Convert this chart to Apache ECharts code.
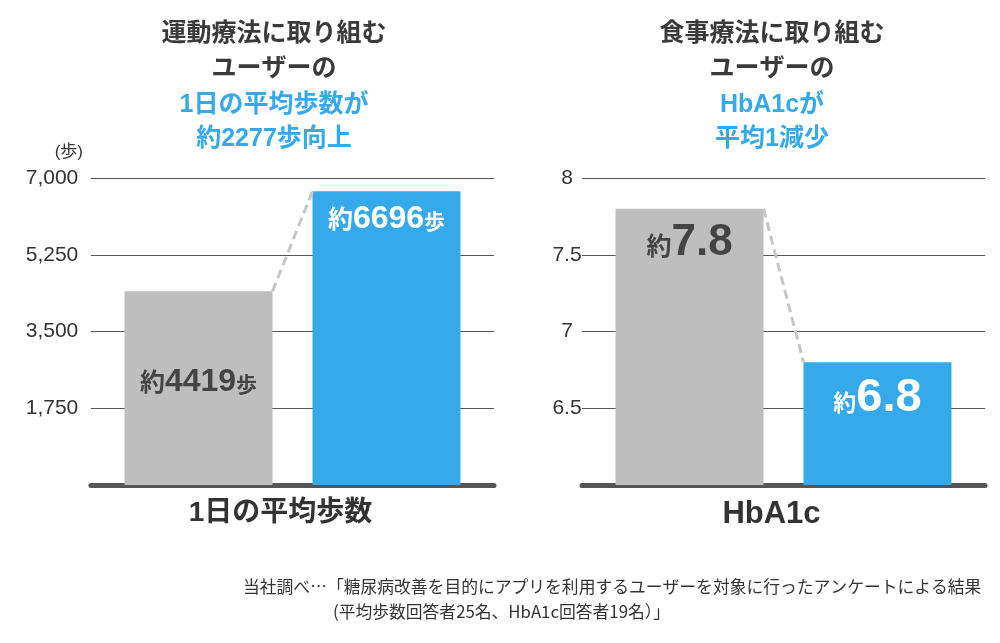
<!DOCTYPE html>
<html>
<head>
<meta charset="utf-8">
<script src="https://cdn.jsdelivr.net/npm/echarts@6/dist/echarts.min.js"></script>
<style>
html,body{margin:0;padding:0;background:#fff;}
#c{width:1000px;height:643px;}
</style>
</head>
<body>
<div id="c"></div>
<script>
// ---- data ----
const leftCategory = ['1日の平均歩数'];
const leftBefore = [4419];
const leftAfter = [6696];
const leftAxis = { min: 0, max: 7000, interval: 1750, unit: '(歩)' };

const rightCategory = ['HbA1c'];
const rightBefore = [7.8];
const rightAfter = [6.8];
const rightAxis = { min: 6, max: 8, interval: 0.5 };

const leftTitleDark = ['運動療法に取り組む', 'ユーザーの'];
const leftTitleBlue = ['1日の平均歩数が', '約2277歩向上'];
const rightTitleDark = ['食事療法に取り組む', 'ユーザーの'];
const rightTitleBlue = ['HbA1cが', '平均1減少'];
const footLines = ['当社調べ…「糖尿病改善を目的にアプリを利用するユーザーを対象に行ったアンケートによる結果',
                   '(平均歩数回答者25名、HbA1c回答者19名）」'];

// ---- style ----
const GRAY = '#bebebe', BLUE = '#35a9ea', DARK = '#3a3a3a', TXT = '#333';
const FONT = "'Liberation Sans','Noto Sans CJK JP',sans-serif";
const JFONT = "'Noto Sans CJK JP',sans-serif";
const BAR_W = 148, GAP = 40;

const chart = echarts.init(document.getElementById('c'), null, { renderer: 'canvas' });

function yAxisCfg(idx, ax, fmt, margin, name) {
  return {
    type: 'value', gridIndex: idx, min: ax.min, max: ax.max, interval: ax.interval,
    name: name || '', nameLocation: 'end', nameGap: 17,
    nameTextStyle: { color: TXT, fontSize: 17, fontFamily: FONT, align: 'right', padding: [0, 8, 0, 0] },
    axisLine: { show: false }, axisTick: { show: false },
    splitLine: { lineStyle: { color: '#555', width: 1 } },
    axisLabel: { showMinLabel: false, color: TXT, fontSize: 21, fontFamily: FONT, align: 'center', margin: margin, formatter: fmt }
  };
}
function xAxisCfg(idx, cats, size) {
  return {
    type: 'category', gridIndex: idx, data: cats,
    axisTick: { show: false },
    axisLine: { lineStyle: { color: '#555', width: 5 } },
    axisLabel: { color: TXT, fontSize: size, fontFamily: FONT, fontWeight: 'bold', margin: 14, padding: [0, 24, 0, 0] }
  };
}
function connector(xi, yi, before, after) {
  return {
    type: 'custom', xAxisIndex: xi, yAxisIndex: yi, silent: true, z: 5,
    data: before.map((v, i) => [i, v, after[i]]),
    encode: { x: 0, y: [1, 2] },
    renderItem: function (params, api) {
      const p1 = api.coord([api.value(0), api.value(1)]);
      const p2 = api.coord([api.value(0), api.value(2)]);
      const h = GAP / 2;
      return { type: 'line', shape: { x1: p1[0] - h, y1: p1[1], x2: p2[0] + h, y2: p2[1] },
               style: { stroke: '#c6c6c6', lineWidth: 3, lineDash: [9, 5] } };
    }
  };
}
function barSeries(xi, yi, data, color, label) {
  return { type: 'bar', xAxisIndex: xi, yAxisIndex: yi, data: data, barWidth: BAR_W,
           barGap: (GAP / BAR_W * 100).toFixed(1) + '%', itemStyle: { color: color }, label: label };
}
function small(size, color, lh, raise) {
  return { fontSize: size, fontFamily: JFONT, color: color, fontWeight: 'bold', verticalAlign: 'bottom', lineHeight: lh, padding: [0, 0, raise, 0] };
}
function big(size, color, lh) {
  return { fontSize: size, fontFamily: FONT, color: color, fontWeight: 'bold', lineHeight: lh };
}

const option = {
  animation: false,
  grid: [
    { left: 91, top: 178, width: 403, height: 307 },
    { left: 582, top: 178, width: 403, height: 307 }
  ],
  xAxis: [xAxisCfg(0, leftCategory, 28), xAxisCfg(1, rightCategory, 31)],
  yAxis: [
    yAxisCfg(0, leftAxis, v => v.toLocaleString('en-US'), 39, leftAxis.unit),
    yAxisCfg(1, rightAxis, v => String(v), 15)
  ],
  series: [
    barSeries(0, 0, leftBefore, GRAY, {
      show: true, position: 'inside', offset: [0, -6],
      formatter: p => '{a|約}{b|' + p.value + '}{c|歩}',
      rich: { a: small(25, '#444', 32, 4), b: big(32, '#444', 32), c: small(21, '#444', 32, 4) }
    }),
    barSeries(0, 0, leftAfter, BLUE, {
      show: true, position: 'insideTop', distance: 12,
      formatter: p => '{a|約}{b|' + p.value + '}{c|歩}',
      rich: { a: small(25, '#fff', 32, 4), b: big(32, '#fff', 32), c: small(21, '#fff', 32, 4) }
    }),
    connector(0, 0, leftBefore, leftAfter),
    barSeries(1, 1, rightBefore, GRAY, {
      show: true, position: 'insideTop', distance: 12,
      formatter: p => '{a|約}{b|' + p.value + '}',
      rich: { a: small(25, '#444', 44, 7), b: big(44, '#444', 44) }
    }),
    barSeries(1, 1, rightAfter, BLUE, {
      show: true, position: 'insideTop', distance: 12,
      formatter: p => '{a|約}{b|' + p.value + '}',
      rich: { a: small(23, '#fff', 48, 8), b: big(47, '#fff', 48) }
    }),
    connector(1, 1, rightBefore, rightAfter)
  ],
  graphic: [
    { type: 'text', x: 274, y: 14, style: { text: leftTitleDark.join('\n'), fill: DARK, font: 'bold 25px ' + JFONT, lineHeight: 35, align: 'center', verticalAlign: 'top' } },
    { type: 'text', x: 274, y: 88, style: { text: leftTitleBlue.join('\n'), fill: BLUE, font: 'bold 25px ' + FONT, lineHeight: 34, align: 'center', verticalAlign: 'top' } },
    { type: 'text', x: 772, y: 14, style: { text: rightTitleDark.join('\n'), fill: DARK, font: 'bold 25px ' + JFONT, lineHeight: 35, align: 'center', verticalAlign: 'top' } },
    { type: 'text', x: 772, y: 88, style: { text: rightTitleBlue.join('\n'), fill: BLUE, font: 'bold 25px ' + FONT, lineHeight: 34, align: 'center', verticalAlign: 'top' } },
    { type: 'text', x: 243, y: 587, style: { text: footLines[0], fill: TXT, font: '16.8px ' + JFONT, align: 'left', verticalAlign: 'middle' } },
    { type: 'text', x: 333, y: 612, style: { text: footLines[1], fill: TXT, font: '16.8px ' + JFONT, align: 'left', verticalAlign: 'middle' } }
  ]
};
chart.setOption(option);
</script>
</body>
</html>
